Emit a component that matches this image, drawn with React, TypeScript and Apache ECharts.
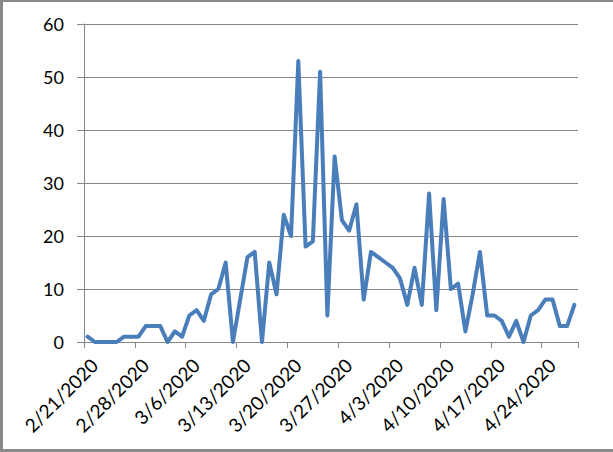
import React, { useEffect, useRef } from "react";
import * as echarts from "echarts";

const startDate = new Date(2020, 1, 21);
const dayCount = 68;
const dates: string[] = [];
for (let i = 0; i < dayCount; i++) {
  const d = new Date(startDate.getFullYear(), startDate.getMonth(), startDate.getDate() + i);
  dates.push(`${d.getMonth() + 1}/${d.getDate()}/${d.getFullYear()}`);
}

const values: number[] = [
  1, 0, 0, 0, 0, 1, 1, 1, 3, 3,
  3, 0, 2, 1, 5, 6, 4, 9, 10, 15,
  0, 8, 16, 17, 0, 15, 9, 24, 20, 53,
  18, 19, 51, 5, 35, 23, 21, 26, 8, 17,
  16, 15, 14, 12, 7, 14, 7, 28, 6, 27,
  10, 11, 2, 9, 17, 5, 5, 4, 1, 4,
  0, 5, 6, 8, 8, 3, 3, 7,
];

const yTicks = { min: 0, max: 60, interval: 10 };

export default function App() {
  const ref = useRef<HTMLDivElement>(null);
  useEffect(() => {
    if (!ref.current) return;
    const chart = echarts.init(ref.current, undefined, { renderer: "svg" });
    const font = "Lato, 'Noto Sans', sans-serif";
    chart.setOption({
      animation: false,
      backgroundColor: "#ffffff",
      grid: { left: 84, right: 35, top: 24, bottom: 110, containLabel: false },
      xAxis: {
        type: "category",
        data: dates,
        boundaryGap: true,
        axisLine: { show: true, lineStyle: { color: "#868686", width: 1 } },
        axisTick: { show: true, interval: 6, length: 6, lineStyle: { color: "#868686" } },
        axisLabel: {
          interval: 6,
          rotate: 45,
          margin: 13,
          verticalAlign: "top",
          color: "#000000",
          fontSize: 19,
          fontFamily: font,
        },
        splitLine: { show: false },
      },
      yAxis: {
        type: "value",
        min: yTicks.min,
        max: yTicks.max,
        interval: yTicks.interval,
        axisLine: { show: true, lineStyle: { color: "#868686", width: 1 } },
        axisTick: { show: true, length: 7, lineStyle: { color: "#868686" } },
        axisLabel: { color: "#000000", fontSize: 18, fontFamily: font, margin: 20 },
        splitLine: { show: true, lineStyle: { color: "#868686", width: 1 } },
      },
      series: [
        {
          type: "line",
          data: values,
          showSymbol: false,
          symbol: "none",
          lineStyle: { color: "#4a7ebb", width: 4, join: "round", cap: "round" },
          itemStyle: { color: "#4a7ebb" },
        },
      ],
    });
    return () => chart.dispose();
  }, []);
  return (
    <div style={{ position: "fixed", left: 0, top: 0, width: 613, height: 452 }}>
      <div ref={ref} style={{ position: "absolute", left: 0, top: 0, width: 613, height: 452 }} />
      <div
        style={{
          position: "absolute",
          left: 0,
          top: 0,
          width: 613,
          height: 452,
          boxSizing: "border-box",
          borderTop: "2px solid #898989",
          borderLeft: "3px solid #898989",
          borderBottom: "3px solid #898989",
          pointerEvents: "none",
        }}
      />
    </div>
  );
}
